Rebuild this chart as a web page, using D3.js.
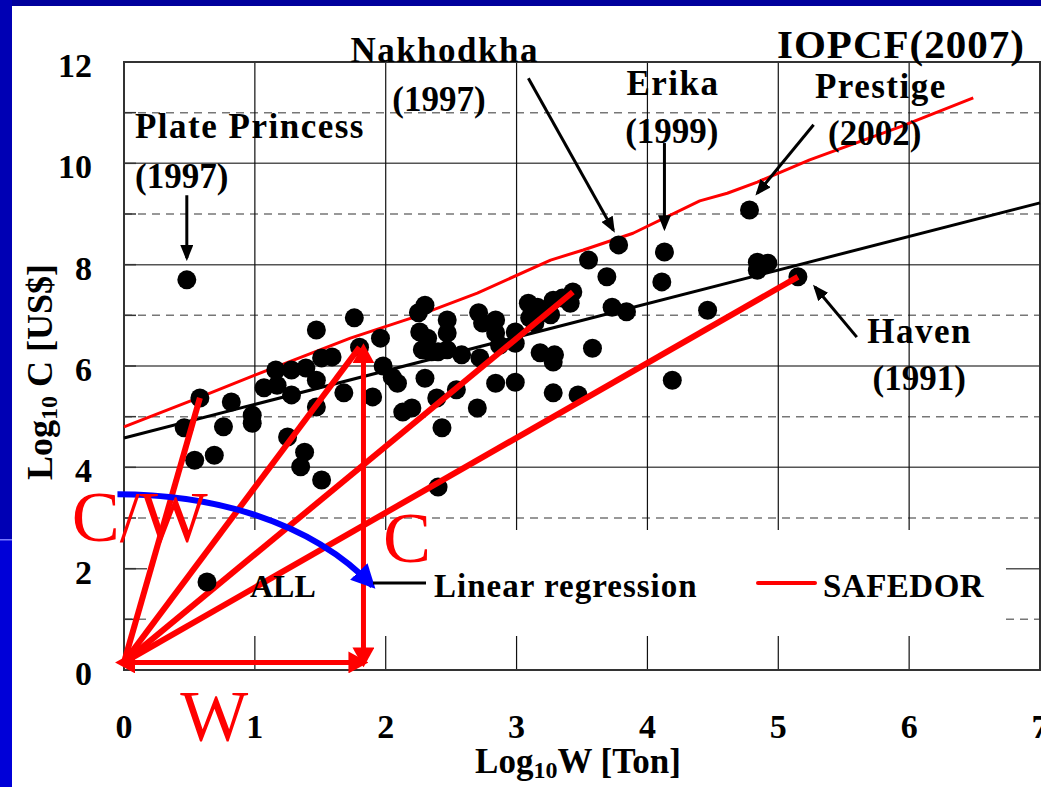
<!DOCTYPE html>
<html>
<head>
<meta charset="utf-8">
<script src="https://cdn.jsdelivr.net/npm/d3@7"></script>
<style>
  body { margin: 0; background: #fff; }
  svg { display: block; }
  text { font-family: "Liberation Serif", "Times New Roman", serif; font-weight: bold; white-space: pre; }
</style>
</head>
<body>
<svg id="chart" width="1041" height="787"></svg>
<script>
// Accidents: log10 W [ton] vs log10 C [US$], one entry per dot.
var logW = [
  0.48, 0.58, 0.46, 0.54, 0.69, 0.76, 0.82, 0.98, 0.98, 1.07,
  1.16, 1.17, 1.25, 1.28, 1.28, 1.38, 1.35, 1.39, 1.47, 1.47,
  1.47, 1.51, 1.51, 1.59, 1.68, 1.76, 1.80, 1.90, 1.96, 1.98,
  2.05, 2.09, 2.30, 2.25, 2.26, 2.32, 2.28, 2.35, 2.47, 2.47,
  2.47, 2.40, 2.58, 2.71, 2.74, 2.84, 2.72, 2.84, 2.87, 2.99,
  2.99, 3.09, 3.16, 3.10, 3.14, 3.28, 3.26, 3.43, 3.35, 3.41,
  3.18, 3.29, 3.28, 2.30, 2.39, 2.54, 2.84, 2.99, 2.13, 2.20,
  2.70, 2.43, 3.28, 3.47, 2.40, 3.78, 3.55, 3.69, 3.73, 3.84,
  3.58, 4.13, 4.11, 4.46, 4.19, 4.78, 4.84, 4.92, 4.84, 5.15
];
var logC = [
  7.70, 5.37, 4.78, 4.14, 4.24, 4.80, 5.29, 5.03, 4.87, 5.57,
  5.92, 5.62, 4.60, 5.92, 5.43, 4.30, 4.01, 5.96, 6.71, 5.72,
  5.19, 3.75, 6.16, 6.18, 5.47, 6.95, 6.37, 5.39, 6.55, 6.00,
  5.78, 5.66, 7.20, 7.05, 6.67, 6.55, 6.32, 6.28, 6.91, 6.65,
  6.32, 6.28, 6.22, 7.05, 6.85, 6.91, 6.16, 6.65, 6.41, 6.67,
  6.45, 7.24, 7.16, 6.95, 6.85, 7.30, 7.01, 7.46, 7.34, 7.24,
  6.26, 6.22, 6.08, 5.76, 5.37, 5.53, 5.66, 5.68, 5.09, 5.17,
  5.17, 4.78, 5.47, 5.43, 3.61, 8.39, 8.09, 7.76, 7.16, 7.07,
  6.35, 8.25, 7.66, 7.10, 5.72, 9.08, 8.05, 8.03, 7.89, 7.76
];

// Linear regression line (end points).
var regW = [0, 7];
var regC = [4.58, 9.22];

// SAFEDOR line.
var safedorW = [0, 0.50, 1.00, 1.73, 2.20, 2.70, 3.26, 3.51, 3.89, 4.40, 4.61, 4.84, 5.24, 5.93, 6.49];
var safedorC = [4.80, 5.30, 5.82, 6.55, 6.95, 7.44, 8.09, 8.29, 8.62, 9.26, 9.41, 9.63, 10.07, 10.72, 11.29];

// C/W fan: rays from the origin to some accidents.
var fanOrigin = [0, 0.15];
var fanW = [0.58, 1.80, 3.43, 5.15];
var fanC = [5.37, 6.37, 7.46, 7.76];

// Axis ticks.
var xTicks = [0, 1, 2, 3, 4, 5, 6, 7];
var yTicks = [0, 2, 4, 6, 8, 10, 12];

// Named accidents: label lines, label anchor, arrow from / to.
var accNames = ['Plate Princess', 'Nakhodkha', 'Erika', 'Prestige', 'Haven'];
var accYears = ['(1997)', '(1997)', '(1999)', '(2002)', '(1991)'];
var accNamePos = [[0.084, 10.50], [1.73, 12.0], [3.84, 11.35], [5.28, 11.29], [5.68, 6.45]];
var accYearPos = [[0.084, 9.51], [2.05, 11.03], [3.83, 10.40], [5.38, 10.36], [5.72, 5.53]];
var accArrowFrom = [[0.48, 9.37], [3.09, 11.68], [4.13, 10.40], [5.27, 10.76], [5.60, 6.57]];
var accArrowTo = [[0.48, 8.13], [3.74, 8.68], [4.13, 8.72], [4.84, 9.41], [5.28, 7.56]];

var svg = d3.select('#chart');
var xScale = d3.scaleLinear().domain([0, 7]).range([124, 1040]);
var yScale = d3.scaleLinear().domain([0, 12]).range([670, 62]);

/**
 * Adds an arrowhead marker.
 * @param {string} id Marker id.
 * @param {string} color Fill colour.
 * @param {number} w Length of the head.
 * @param {number} h Width of the head.
 * @param {number} back How far the tip sticks out past the line end.
 */
function addMarker(id, color, w, h, back) {
  svg.select('defs').append('marker').
      attr('id', id).
      attr('markerUnits', 'userSpaceOnUse').
      attr('viewBox', '0 0 ' + w + ' ' + h).
      attr('markerWidth', w).
      attr('markerHeight', h).
      attr('refX', w - back).
      attr('refY', h / 2).
      attr('orient', 'auto-start-reverse').
      append('path').
      attr('d', 'M0,0L' + w + ',' + (h / 2) + 'L0,' + h + 'Z').
      attr('fill', color);
}

svg.append('defs');
addMarker('arrow-black', '#000', 16, 13, 3);
addMarker('arrow-red', '#ff0000', 20, 22, 5);
addMarker('arrow-blue', '#0000ff', 24, 24, 4);

// Slide frame.
svg.append('rect').attr('width', 1041).attr('height', 787).attr('fill', '#fff');
svg.append('rect').attr('x', 0).attr('y', 0).attr('width', 1041).attr('height', 6).attr('fill', '#00009c');
svg.append('rect').attr('x', 0).attr('y', 0).attr('width', 12).attr('height', 540).attr('fill', '#0000b4');
svg.append('rect').attr('x', 0).attr('y', 540).attr('width', 12).attr('height', 247).attr('fill', '#0000d8');
svg.append('rect').attr('x', 0).attr('y', 539).attr('width', 12).attr('height', 1.5).attr('fill', '#7a7aff');

// Grid.
var grid = svg.append('g');
grid.selectAll('.hgrid').
    data(d3.range(1, 12)).
    enter().append('line').
    attr('x1', xScale(0)).attr('x2', xScale(7)).
    attr('y1', function(d) { return yScale(d); }).
    attr('y2', function(d) { return yScale(d); }).
    attr('stroke', function(d) { return d % 2 ? '#777' : '#555'; }).
    attr('stroke-width', 1.5).
    attr('stroke-dasharray', function(d) { return d % 2 ? '8,6' : null; });
grid.selectAll('.vgrid').
    data(d3.range(1, 7)).
    enter().append('line').
    attr('x1', function(d) { return xScale(d); }).
    attr('x2', function(d) { return xScale(d); }).
    attr('y1', yScale(12)).attr('y2', yScale(0)).
    attr('stroke', '#111').
    attr('stroke-width', 1.2);

// Legend panel hides the grid behind it.
svg.append('rect').attr('x', 147).attr('y', 530).attr('width', 859).attr('height', 106).attr('fill', '#fff');

// Y ticks (inside) and plot frame.
svg.selectAll('.ytick').
    data(d3.range(0, 13)).
    enter().append('line').
    attr('x1', xScale(0)).attr('x2', xScale(0) + 12).
    attr('y1', function(d) { return yScale(d); }).
    attr('y2', function(d) { return yScale(d); }).
    attr('stroke', '#333').attr('stroke-width', 1.5);
svg.append('rect').
    attr('x', xScale(0)).attr('y', yScale(12)).
    attr('width', xScale(7) - xScale(0)).attr('height', yScale(0) - yScale(12)).
    attr('fill', 'none').attr('stroke', '#333').attr('stroke-width', 2);

// Regression and SAFEDOR lines.
var line = d3.line().
    x(function(d) { return xScale(d[0]); }).
    y(function(d) { return yScale(d[1]); });
svg.append('path').
    attr('d', line(d3.zip(regW, regC))).
    attr('fill', 'none').attr('stroke', '#000').attr('stroke-width', 3);
svg.append('path').
    attr('d', line(d3.zip(safedorW, safedorC))).
    attr('fill', 'none').attr('stroke', '#ff0000').attr('stroke-width', 3).
    attr('stroke-linejoin', 'round');

// Accident dots.
svg.selectAll('.dot').
    data(d3.zip(logW, logC)).
    enter().append('circle').
    attr('cx', function(d) { return xScale(d[0]); }).
    attr('cy', function(d) { return yScale(d[1]); }).
    attr('r', 9.5).
    attr('fill', '#000');

// C/W fan.
svg.selectAll('.fan').
    data(d3.zip(fanW, fanC)).
    enter().append('line').
    attr('x1', xScale(fanOrigin[0])).attr('y1', yScale(fanOrigin[1])).
    attr('x2', function(d) { return xScale(d[0]); }).
    attr('y2', function(d) { return yScale(d[1]); }).
    attr('stroke', '#ff0000').attr('stroke-width', 6);

// W and C arrows.
svg.append('line').
    attr('x1', xScale(-0.03)).attr('y1', yScale(fanOrigin[1])).
    attr('x2', xScale(1.83)).attr('y2', yScale(fanOrigin[1])).
    attr('stroke', '#ff0000').attr('stroke-width', 5).
    attr('marker-start', 'url(#arrow-red)').attr('marker-end', 'url(#arrow-red)');
svg.append('line').
    attr('x1', xScale(1.83)).attr('y1', yScale(fanOrigin[1])).
    attr('x2', xScale(1.83)).attr('y2', yScale(6.35)).
    attr('stroke', '#ff0000').attr('stroke-width', 5).
    attr('marker-start', 'url(#arrow-red)').attr('marker-end', 'url(#arrow-red)');

// Blue turning arrow.
var arc = d3.path();
arc.moveTo(xScale(-0.05), yScale(3.47));
arc.bezierCurveTo(xScale(0.66), yScale(3.47), xScale(1.42), yScale(2.96), xScale(1.90), yScale(1.66));
svg.append('path').
    attr('d', arc.toString()).
    attr('fill', 'none').attr('stroke', '#0000ff').attr('stroke-width', 6).
    attr('marker-end', 'url(#arrow-blue)');

// Legend.
svg.append('circle').attr('cx', 207).attr('cy', 582).attr('r', 9.5).attr('fill', '#000');
svg.append('text').attr('x', 250).attr('y', 597).attr('font-size', 32).text('ALL');
svg.append('line').attr('x1', 373).attr('x2', 426).attr('y1', 583).attr('y2', 583).
    attr('stroke', '#000').attr('stroke-width', 3);
svg.append('text').attr('x', 434).attr('y', 597).attr('font-size', 33).
    attr('letter-spacing', 1).text('Linear regression');
svg.append('line').attr('x1', 758).attr('x2', 815).attr('y1', 583).attr('y2', 583).
    attr('stroke', '#ff0000').attr('stroke-width', 4).attr('stroke-linecap', 'round');
svg.append('text').attr('x', 823).attr('y', 597).attr('font-size', 33).
    attr('letter-spacing', 0.5).text('SAFEDOR');

// Named accident annotations.
accNames.forEach(function(name, i) {
  svg.append('line').
      attr('x1', xScale(accArrowFrom[i][0])).attr('y1', yScale(accArrowFrom[i][1])).
      attr('x2', xScale(accArrowTo[i][0])).attr('y2', yScale(accArrowTo[i][1])).
      attr('stroke', '#000').attr('stroke-width', 3).
      attr('marker-end', 'url(#arrow-black)');
  svg.append('text').
      attr('x', xScale(accNamePos[i][0])).attr('y', yScale(accNamePos[i][1])).
      attr('font-size', 35).attr('letter-spacing', 1.5).
      text(name);
  svg.append('text').
      attr('x', xScale(accYearPos[i][0])).attr('y', yScale(accYearPos[i][1])).
      attr('font-size', 35).
      text(accYears[i]);
});
svg.append('text').attr('x', 777).attr('y', 58).attr('font-size', 41).
    attr('letter-spacing', 1).text('IOPCF(2007)');

// Tick labels.
svg.selectAll('.ylab').
    data(yTicks).
    enter().append('text').
    attr('x', 92).
    attr('y', function(d) { return yScale(d) + 15; }).
    attr('text-anchor', 'end').
    attr('font-size', 34).
    text(function(d) { return d; });
svg.selectAll('.xlab').
    data(xTicks).
    enter().append('text').
    attr('x', function(d) { return xScale(d); }).
    attr('y', 738).
    attr('text-anchor', 'middle').
    attr('font-size', 34).
    text(function(d) { return d; });

// Axis titles with subscript 10.
var xTitle = svg.append('text').attr('x', 578).attr('y', 773).
    attr('text-anchor', 'middle').attr('font-size', 35);
xTitle.append('tspan').text('Log');
xTitle.append('tspan').attr('font-size', 24).attr('dy', 5).text('10');
xTitle.append('tspan').attr('dy', -5).text('W [Ton]');

var yTitle = svg.append('text').
    attr('transform', 'translate(52,372) rotate(-90)').
    attr('text-anchor', 'middle').attr('font-size', 36);
yTitle.append('tspan').text('Log');
yTitle.append('tspan').attr('font-size', 24).attr('dy', 5).text('10');
yTitle.append('tspan').attr('dy', -5).text(' C [US$]');

// Big red letters.
var redLabels = [['C/W', -0.40, 2.55], ['C', 1.98, 2.13], ['W', 0.43, -1.38]];
svg.selectAll('.redlab').
    data(redLabels).
    enter().append('text').
    attr('x', function(d) { return xScale(d[1]); }).
    attr('y', function(d) { return yScale(d[2]); }).
    attr('font-size', 72).
    style('font-weight', 'normal').
    attr('fill', '#ff0000').
    text(function(d) { return d[0]; });
</script>
</body>
</html>
